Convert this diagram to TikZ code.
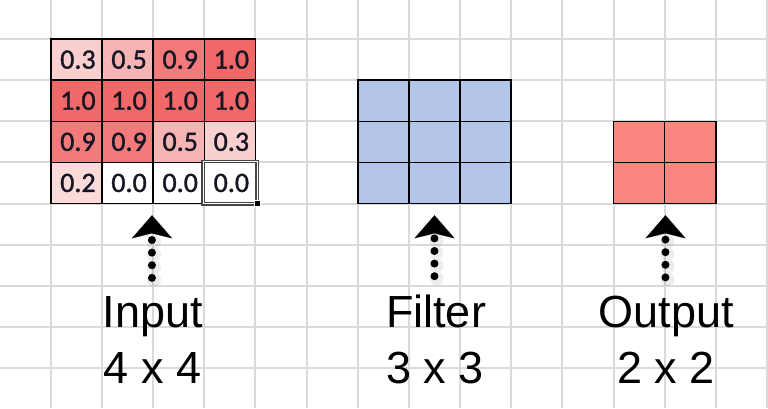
\documentclass[tikz,border=0pt]{standalone}
\usepackage{fontspec}
\setmainfont{Liberation Sans}
\newfontfamily\cellfont[FakeBold=1.2]{Carlito}
\usetikzlibrary{arrows.meta}
\definecolor{gridgray}{RGB}{218,218,218}
\definecolor{cA}{RGB}{240,104,104}
\definecolor{cB}{RGB}{242,122,122}
\definecolor{cC}{RGB}{247,180,180}
\definecolor{cD}{RGB}{250,207,207}
\definecolor{cE}{RGB}{251,218,218}
\definecolor{cF}{RGB}{255,255,255}
\definecolor{filt}{RGB}{180,198,231}
\definecolor{outc}{RGB}{250,136,128}
\definecolor{numc}{RGB}{22,22,36}
\definecolor{selgray}{RGB}{70,70,70}
\tikzset{
  bgline/.style={draw=gridgray, line width=2pt},
  cellbox/.style={draw=black, line width=1.6pt, minimum width=51.15pt, minimum height=41.1pt, inner sep=0pt, anchor=center},
  numtext/.style={text=numc, font=\cellfont\fontsize{28}{28}\selectfont},
  lbltext/.style={inner sep=0pt, anchor=base, text=black, font=\fontsize{45}{54}\selectfont},
  dotarrow/.style={line width=8pt, line cap=round, dash pattern=on 0pt off 12.6pt,
     -{Stealth[length=23pt, width=40pt, inset=5pt, line width=0.1pt]}},
  arrowhalo/.style={black, opacity=0.07, line width=14pt, line cap=round, dash pattern=on 0pt off 12.6pt,
     -{Stealth[length=23pt, width=40pt, inset=5pt, line width=6pt, round]}}
}
\begin{document}
\begin{tikzpicture}[x=1pt, y=-1pt]
\useasboundingbox (0,0) rectangle (768,408);
\fill[white] (0,0) rectangle (768,408);
% background spreadsheet grid
\foreach \k in {1,...,15} \draw[bgline] ({51.15*\k-0.3},0) -- ({51.15*\k-0.3},408);
\foreach \j in {1,...,9} \draw[bgline] (0,{-2+41.1*\j}) -- (768,{-2+41.1*\j});
% input 4x4
\foreach \r/\c/\v/\col in {1/1/0.3/cD,1/2/0.5/cC,1/3/0.9/cB,1/4/1.0/cA,
  2/1/1.0/cA,2/2/1.0/cA,2/3/1.0/cA,2/4/1.0/cA,
  3/1/0.9/cB,3/2/0.9/cB,3/3/0.5/cC,3/4/0.3/cD,
  4/1/0.2/cE,4/2/0.0/cF,4/3/0.0/cF,4/4/0.0/cF}
  \node[cellbox, fill=\col, numtext] (in-\r-\c) at ({51.15*(\c+0.5)-0.3},{-2+41.1*(\r+0.5)}) {\hspace*{3pt}\v};
% selection
\draw[selgray, line width=3.6pt] ([shift={(-0.3pt,0.5pt)}]in-4-4.south west) rectangle ([shift={(1pt,0pt)}]in-4-4.north east);
\draw[white, line width=1.1pt] ([shift={(-0.3pt,0.5pt)}]in-4-4.south west) rectangle ([shift={(1pt,0pt)}]in-4-4.north east);
\node[draw=white, fill=black, line width=1pt, minimum size=6pt, inner sep=0pt] (handle) at ([shift={(1pt,0.5pt)}]in-4-4.south east) {};
% filter 3x3
\foreach \r in {1,2,3} \foreach \c in {1,2,3}
  \node[cellbox, fill=filt] (fi-\r-\c) at ({51.15*(6+\c+0.5)-0.3},{-2+41.1*(1+\r+0.5)}) {};
% output 2x2
\foreach \r in {1,2} \foreach \c in {1,2}
  \node[cellbox, fill=outc] (ou-\r-\c) at ({51.15*(11+\c+0.5)-0.3},{-2+41.1*(2+\r+0.5)}) {};
% labels
\node[lbltext] (lin) at (153,327) {Input};
\node[lbltext] (sin) at (152.5,383) {4 x 4};
\node[lbltext] (lfi) at (436,327) {Filter};
\node[lbltext] (sfi) at (435,383) {3 x 3};
\node[lbltext] (lou) at (666.5,327) {Output};
\node[lbltext] (sou) at (666,383) {2 x 2};
% arrow tips
\coordinate (tin) at ([shift={(-2pt,-11pt)}]in-4-2.south east);
\coordinate (tfi) at ([yshift=-11pt]fi-3-2.south);
\coordinate (tou) at ([yshift=-11pt]ou-2-1.south east);
\foreach \s/\t in {lin/tin, lfi/tfi, lou/tou}{
  \draw[arrowhalo, transform canvas={shift={(2pt,-2pt)}}] ([yshift=18pt]\s.north -| \t) -- (\t);
  \draw[dotarrow] ([yshift=18pt]\s.north -| \t) -- (\t);
}
\end{tikzpicture}
\end{document}
